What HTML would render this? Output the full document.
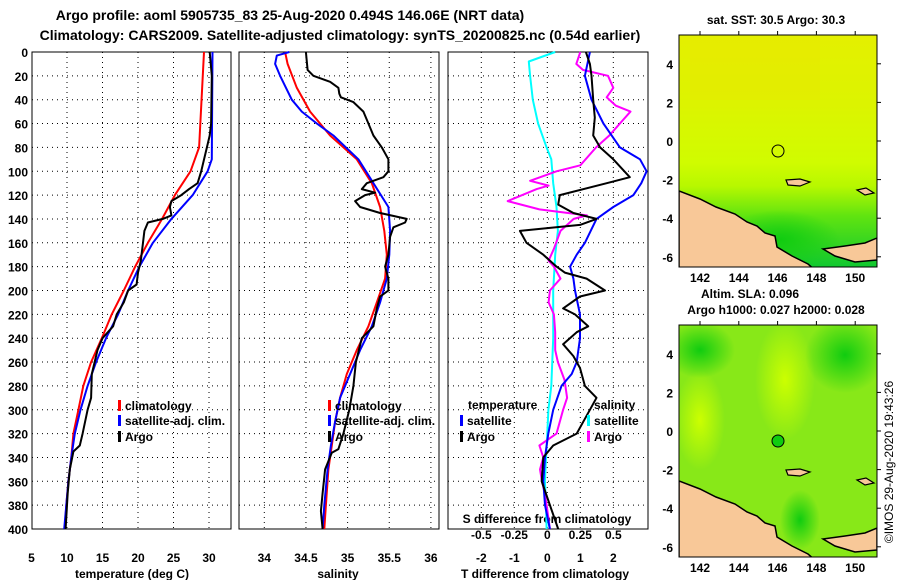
<!DOCTYPE html>
<html><head><meta charset="utf-8"><style>
body{margin:0;background:#fff;}
svg{display:block;font-family:"Liberation Sans",sans-serif;font-weight:bold;}
</style></head><body>
<svg id="fig" width="900" height="580" viewBox="0 0 900 580" xmlns="http://www.w3.org/2000/svg">
<defs>
<linearGradient id="sstG" x1="0" y1="0" x2="0" y2="1">
<stop offset="0" stop-color="#e4f000"/><stop offset="0.3" stop-color="#dcf400"/><stop offset="0.55" stop-color="#d0fc00"/><stop offset="0.65" stop-color="#b8f800"/><stop offset="0.78" stop-color="#60e410"/><stop offset="1" stop-color="#10c830"/></linearGradient>
<radialGradient id="blobG"><stop offset="0" stop-color="#10cc10"/><stop offset="1" stop-color="#10cc10" stop-opacity="0"/></radialGradient>
<radialGradient id="yelG"><stop offset="0" stop-color="#ccff00"/><stop offset="1" stop-color="#ccff00" stop-opacity="0"/></radialGradient>
<clipPath id="c1"><rect x="679" y="35" width="198" height="232"/></clipPath>
<clipPath id="c2"><rect x="679" y="325" width="198" height="232"/></clipPath>
</defs>
<text x="290" y="20" font-size="14" text-anchor="middle">Argo profile: aoml 5905735_83 25-Aug-2020 0.494S 146.06E (NRT data)</text>
<text x="340" y="40" font-size="14" text-anchor="middle">Climatology: CARS2009. Satellite-adjusted climatology: synTS_20200825.nc (0.54d earlier)</text>
<g id="plots"></g>

<g>
<text x="776" y="24" font-size="12" text-anchor="middle">sat. SST: 30.5 Argo: 30.3</text>
<g clip-path="url(#c1)">
<rect x="679" y="35" width="198" height="232" fill="url(#sstG)"/>
<rect x="690" y="40" width="130" height="60" fill="#f0e000" opacity="0.3"/>
<ellipse cx="780" cy="240" rx="60" ry="30" fill="url(#blobG)"/>
<path d="M679,191 L700,199 L716,207 L735,214 L747,222 L757,226 L765,233 L775,236 L777,247 L792,256 L808,264 L815,270 L679,270 Z" fill="#f8c898" stroke="#000" stroke-width="1.5"/>
<path d="M823,249 L845,246 L865,243 L877,238 L877,260 L855,262 L835,256 Z" fill="#f8c898" stroke="#000" stroke-width="1.5"/>
<path d="M786,180 L800,179 L810,182 L800,186 L788,185 Z M857,190 L866,188 L874,193 L865,195 Z" fill="#f8c898" stroke="#000" stroke-width="1.2"/>
</g>
<rect x="679" y="35" width="198" height="232" fill="none" stroke="#000"/>
<circle cx="778" cy="151" r="6" fill="none" stroke="#000"/>
</g>
<g>
<text x="750" y="298" font-size="12" text-anchor="middle">Altim. SLA: 0.096</text>
<text x="776" y="314" font-size="12" text-anchor="middle">Argo h1000: 0.027 h2000: 0.028</text>
<g clip-path="url(#c2)">
<rect x="679" y="325" width="198" height="232" fill="#88e818"/>
<ellipse cx="785" cy="380" rx="30" ry="60" fill="url(#yelG)"/>
<ellipse cx="700" cy="420" rx="25" ry="50" fill="url(#yelG)"/>
<ellipse cx="700" cy="350" rx="35" ry="28" fill="url(#blobG)"/>
<ellipse cx="845" cy="355" rx="40" ry="38" fill="url(#blobG)"/>
<ellipse cx="800" cy="520" rx="20" ry="30" fill="url(#blobG)"/>
<path d="M679,481 L700,489 L716,497 L735,504 L747,512 L757,516 L765,523 L775,526 L777,537 L792,546 L808,554 L815,560 L679,560 Z" fill="#f8c898" stroke="#000" stroke-width="1.5"/>
<path d="M823,539 L845,536 L865,533 L877,528 L877,550 L855,552 L835,546 Z" fill="#f8c898" stroke="#000" stroke-width="1.5"/>
<path d="M786,470 L800,469 L810,472 L800,476 L788,475 Z M857,480 L866,478 L874,483 L865,485 Z" fill="#f8c898" stroke="#000" stroke-width="1.2"/>
</g>
<rect x="679" y="325" width="198" height="232" fill="none" stroke="#000"/>
<circle cx="778" cy="441" r="6" fill="#10cc10" stroke="#000"/>
</g>
<text transform="translate(893,462) rotate(-90)" font-size="12" font-weight="normal" text-anchor="middle">©IMOS 29-Aug-2020 19:43:26</text>
<g id="maptk"></g>
</svg>
<script>
const NS="http://www.w3.org/2000/svg";
const svg=document.getElementById('plots');
const tempDepth=[0,80,100,120,140,160,180,200,220,240,260,280,300,320,340,360,380,400];
const tempClim=[29.3,28.6,27.4,25.2,23.4,21.4,19.6,18.0,16.3,14.9,13.4,12.3,11.6,10.9,10.6,10.2,9.9,9.7];
const tempSatDepth=[0,90,100,120,140,160,180,200,220,240,260,280,300,320,340,360,380,400];
const tempSat=[30.5,30.4,29.8,27.7,24.7,22.1,20.2,18.6,17.2,15.5,14.1,12.9,11.9,11.1,10.6,10.2,9.9,9.6];
const argoTDepth=[0,20,60,70,80,100,110,115,120,125,130,137,140,143,150,160,175,185,195,200,210,220,230,240,250,270,290,300,320,330,335,350,370,400];
const argoT=[30.1,30.4,30.3,30.1,29.7,28.9,28.4,27.2,26.1,24.7,24.5,24.7,23.5,21.4,20.9,20.7,20.4,20.0,19.8,18.6,18.0,17.0,16.5,15.0,14.3,13.5,13.4,12.9,12.2,11.8,10.9,10.4,10.1,9.8];
const salClimDepth=[0,10,30,50,70,90,110,130,150,170,190,210,230,250,270,290,310,330,350,380,400];
const salClim=[34.25,34.28,34.39,34.55,34.79,35.11,35.29,35.39,35.44,35.47,35.45,35.35,35.25,35.11,34.99,34.91,34.85,34.81,34.77,34.74,34.72];
const salSatDepth=[0,3,10,20,40,50,60,70,90,110,130,150,170,190,210,230,250,270,290,310,330,350,380,400];
const salSat=[34.30,34.15,34.13,34.19,34.33,34.45,34.63,34.83,35.13,35.31,35.49,35.51,35.50,35.47,35.39,35.29,35.15,35.03,34.91,34.85,34.80,34.76,34.72,34.70];
const argoSDepth=[0,15,20,25,30,35,38,42,50,60,70,80,90,100,105,110,115,118,120,125,130,135,140,143,147,155,170,180,190,200,205,215,230,240,260,280,300,320,333,336,350,370,385,400];
const argoS=[34.50,34.52,34.59,34.79,34.89,34.90,34.92,35.07,35.19,35.25,35.31,35.41,35.49,35.49,35.43,35.23,35.17,35.33,35.21,35.09,35.15,35.39,35.71,35.69,35.55,35.51,35.49,35.45,35.49,35.49,35.39,35.35,35.31,35.17,35.10,35.07,35.02,34.95,34.89,34.81,34.73,34.70,34.68,34.70];
const dTSatDepth=[0,20,40,60,80,90,100,110,120,130,140,160,170,180,190,200,220,240,260,270,280,300,320,340,360,380,400];
const dTSat=[1.29,1.14,1.34,1.70,2.20,2.81,3.01,2.85,2.61,2.0,1.49,1.14,0.89,0.69,0.79,0.84,0.99,0.99,0.89,0.74,0.43,0.18,0.03,-0.07,-0.12,-0.07,0.08];
const dTArgoDepth=[0,10,20,40,55,70,80,90,105,110,120,128,135,140,145,150,160,170,180,185,190,200,205,215,220,230,235,245,255,265,280,290,300,310,320,330,340,360,380,400];
const dTArgo=[1.17,1.29,1.34,1.39,1.44,1.39,1.6,2.0,2.5,1.8,0.38,0.33,0.79,1.49,0.99,-0.83,-0.63,-0.12,0.28,0.53,1.19,1.75,0.99,0.48,0.84,1.24,0.89,0.48,0.79,0.99,1.14,1.49,1.29,1.09,0.89,0.18,-0.12,-0.17,0.08,0.33];
const dSSatDepth=[0,8,20,40,60,80,90,110,130,150,170,200,240,280,300,320,340,360,380,400];
const dSSat=[0.06,-0.14,-0.13,-0.11,-0.07,-0.005,0.03,0.045,0.07,0.08,0.06,0.045,0.045,0.03,0.008,0,-0.01,-0.018,-0.01,-0.005];
const dSArgoDepth=[0,10,15,20,30,38,45,50,60,70,80,95,100,108,112,115,125,132,137,140,150,165,175,180,190,200,210,220,235,250,260,275,290,300,320,330,340,350,360,370,380,400];
const dSArgo=[0.25,0.22,0.27,0.46,0.50,0.45,0.52,0.63,0.55,0.47,0.37,0.25,0.07,-0.13,0.01,-0.08,-0.30,-0.06,0.30,0.20,0.10,0.05,0.01,0.05,0.10,0.02,0.01,0.05,0.06,0.06,0.08,0.13,0.15,0.12,0.07,-0.06,-0.03,-0.055,-0.04,-0.02,-0.005,0.02];
const depthTicks=[0,20,40,60,80,100,120,140,160,180,200,220,240,260,280,300,320,340,360,380,400];
const tempTicks=[5,10,15,20,25,30];
const salTicks=[34,34.5,35,35.5,36];
const dTTicks=[-2,-1,0,1,2];
const dSTicks=[-0.5,-0.25,0,0.25,0.5];

const Y0=52,Y1=529;
const yD=d=>Y0+(d/400)*(Y1-Y0);
const P1={x0:32,x1:231},P2={x0:239,x1:439},P3={x0:448,x1:648};
const xT=v=>31.5+(v-5)*7.1;
const xS=v=>264.3+(v-34)*83.3;
const xDT=v=>547.3+v*33;
const xDS=v=>547.3+v*132;

function el(tag,attrs,parent){const e=document.createElementNS(NS,tag);for(const k in attrs)e.setAttribute(k,attrs[k]);(parent||svg).appendChild(e);return e;}
function txt(s,x,y,size,anchor,name,parent){const t=el('text',{x:x,y:y,'font-size':size,'text-anchor':anchor||'start'},parent);t.textContent=s;


return t;}
function panel(P,xticks,xf,labelFmt,name){
  const g=el('g',{});
  
  
  depthTicks.forEach(d=>{if(d>0&&d<400){const l=el('line',{x1:P.x0,x2:P.x1,y1:yD(d),y2:yD(d),stroke:'#000','stroke-dasharray':'1,4','stroke-width':1},g);
    
    }});
  xticks.forEach(v=>{const x=xf(v);if(x>P.x0+1&&x<P.x1-1){const l=el('line',{x1:x,x2:x,y1:Y0,y2:Y1,stroke:'#000','stroke-dasharray':'1,4','stroke-width':1},g);
    
    }
    if(labelFmt){txt(labelFmt(v),x,562,12,'middle','x-tick-label',g);}});
  const r=el('rect',{x:P.x0,y:Y0,width:P.x1-P.x0,height:Y1-Y0,fill:'none',stroke:'#000','stroke-width':1},g);
  
  
  return g;
}
function series(depths,vals,xf,color,name,w){
  const pts=depths.map((d,i)=>xf(vals[i]).toFixed(1)+','+yD(d).toFixed(1)).join(' ');
  const p=el('polyline',{points:pts,fill:'none',stroke:color,'stroke-width':w||2,'stroke-linejoin':'round'});
  
  
}
const g1=panel(P1,tempTicks,xT,v=>String(v),'temperature-panel');
depthTicks.forEach(d=>txt(String(d),28,yD(d)+5,12,'end','y-tick-label',g1));
const g2=panel(P2,salTicks,xS,v=>String(v),'salinity-panel');
const g3=panel(P3,dTTicks,xDT,v=>String(v),'difference-panel');
txt('temperature (deg C)',132,578,12,'middle','temperature-axis-title');
txt('salinity',338,578,12,'middle','salinity-axis-title');
txt('T difference from climatology',545,578,12,'middle','t-difference-axis-title');
txt('S difference from climatology',547,523,12,'middle','s-difference-axis-title');
dSTicks.forEach(v=>txt(String(v),xDS(v),539,12,'middle','s-diff-tick-label'));

series(tempDepth,tempClim,xT,'#f00','temp-climatology-line');
series(tempSatDepth,tempSat,xT,'#00f','temp-satellite-line');
series(argoTDepth,argoT,xT,'#000','temp-argo-line');
series(salClimDepth,salClim,xS,'#f00','sal-climatology-line');
series(salSatDepth,salSat,xS,'#00f','sal-satellite-line');
series(argoSDepth,argoS,xS,'#000','sal-argo-line');
series(dSSatDepth,dSSat,xDS,'#0ff','sdiff-satellite-line');
series(dSArgoDepth,dSArgo,xDS,'#f0f','sdiff-argo-line');
series(dTSatDepth,dTSat,xDT,'#00f','tdiff-satellite-line');
series(dTArgoDepth,dTArgo,xDT,'#000','tdiff-argo-line');

function leg(x,y,color,label){
  const r=el('rect',{x:x,y:y-10,width:3,height:11,fill:color});
  
  
  if(label)txt(label,x+7,y,12,'start','legend-label');
}
leg(118,410,'#f00','climatology');leg(118,425,'#00f','satellite-adj. clim.');leg(118,441,'#000','Argo');
leg(328,410,'#f00','climatology');leg(328,425,'#00f','satellite-adj. clim.');leg(328,441,'#000','Argo');
txt('temperature',468,409,12,'start','legend-heading-temperature');
leg(460,425,'#00f','satellite');leg(460,441,'#000','Argo');
txt('salinity',594,409,12,'start','legend-heading-salinity');
leg(587,425,'#0ff','satellite');leg(587,441,'#f0f','Argo');

const mt=document.getElementById('maptk');
const lonTicks=[142,144,146,148,150];
const latTicks=[4,2,0,-2,-4,-6];
[[35,141,277],[325,431,567]].forEach(([top,lat0,ly])=>{
  lonTicks.forEach(lo=>{const x=700+(lo-142)*19.4;
    el('line',{x1:x,x2:x,y1:top,y2:top-4,stroke:'#000'},mt);
    txt(String(lo),x,ly+5,12,'middle','map-lon-label',mt);});
  latTicks.forEach(la=>{const y=lat0-la*19.3;
    el('line',{x1:877,x2:881,y1:y,y2:y,stroke:'#000'},mt);
    txt(String(la),673,y+5,12,'end','map-lat-label',mt);});
});
</script>
</body></html>
